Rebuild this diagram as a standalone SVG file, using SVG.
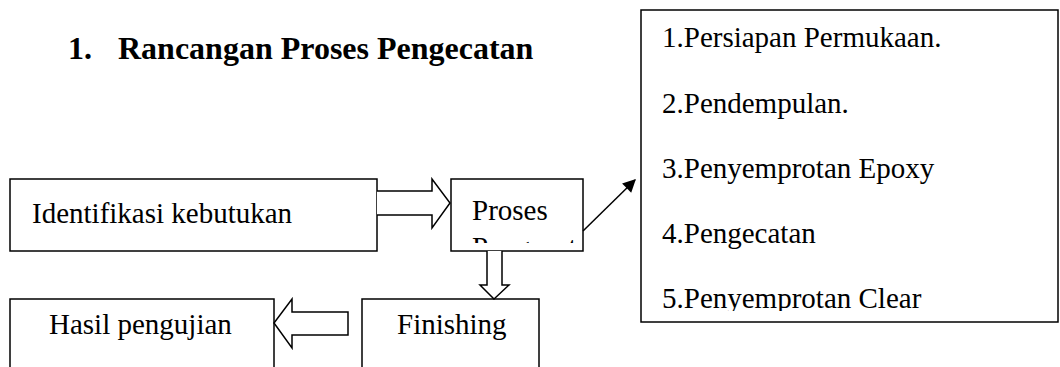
<svg xmlns="http://www.w3.org/2000/svg" width="1060" height="367" viewBox="0 0 1060 367">
  <style>
    .box { fill: #fff; stroke: #000; stroke-width: 1.5; }
    .harrow { fill: #fff; stroke: #000; stroke-width: 1.5; stroke-linejoin: miter; }
    .t { font-family: "Liberation Serif", "Times New Roman", serif; font-size: 29px; fill: #000; }
    .title { font-family: "Liberation Serif", "Times New Roman", serif; font-size: 32px; font-weight: bold; fill: #000; }
  </style>
  <defs>
    <marker id="ah" viewBox="0 0 10 10" refX="9" refY="5" markerWidth="15" markerHeight="13" orient="auto" markerUnits="userSpaceOnUse">
      <path d="M0,0 L10,5 L0,10 z" fill="#000"/>
    </marker>
    <clipPath id="clipProses"><rect x="452" y="181" width="130" height="62"/></clipPath>
    <clipPath id="clipList"><rect x="642" y="11" width="415" height="300"/></clipPath>
  </defs>
  <rect width="1060" height="367" fill="#fff"/>

  <g id="title">
    <text class="title" x="68" y="59">1.</text>
    <text class="title" x="118" y="59">Rancangan Proses Pengecatan</text>
  </g>

  <g id="node-identifikasi">
    <rect class="box" x="10" y="179" width="367" height="72"/>
    <text class="t" x="32" y="223">Identifikasi kebutukan</text>
  </g>

  <g id="node-proses">
    <rect class="box" x="451" y="179" width="132" height="72"/>
    <g clip-path="url(#clipProses)">
      <text class="t" x="472" y="220">Proses</text>
      <text class="t" x="472" y="257">Pengecatan</text>
    </g>
  </g>

  <g id="node-langkah">
    <rect class="box" x="641" y="10" width="417" height="312"/>
    <g clip-path="url(#clipList)">
      <text class="t" x="662" y="47">1.Persiapan Permukaan.</text>
      <text class="t" x="662" y="113">2.Pendempulan.</text>
      <text class="t" x="662" y="178">3.Penyemprotan Epoxy</text>
      <text class="t" x="662" y="243">4.Pengecatan</text>
      <text class="t" x="662" y="308">5.Penyemprotan Clear</text>
    </g>
  </g>

  <g id="node-finishing">
    <rect class="box" x="362" y="299" width="177" height="90"/>
    <text class="t" x="397" y="334">Finishing</text>
  </g>

  <g id="node-hasil">
    <rect class="box" x="10" y="299" width="264" height="90"/>
    <text class="t" x="49" y="334">Hasil pengujian</text>
  </g>

  <g id="connectors">
    <path class="harrow" d="M377,191 L432,191 L432,179 L450,203 L432,228 L432,215 L377,215"/>
    <path class="harrow" d="M487,251 L487,285 L480,285 L494,299 L509,285 L502,285 L502,251"/>
    <path class="harrow" d="M348,312 L292,312 L292,299 L274,323 L292,348 L292,335 L348,335 Z"/>
    <line x1="583" y1="231" x2="635" y2="180" stroke="#000" stroke-width="1.5" marker-end="url(#ah)"/>
  </g>
</svg>
